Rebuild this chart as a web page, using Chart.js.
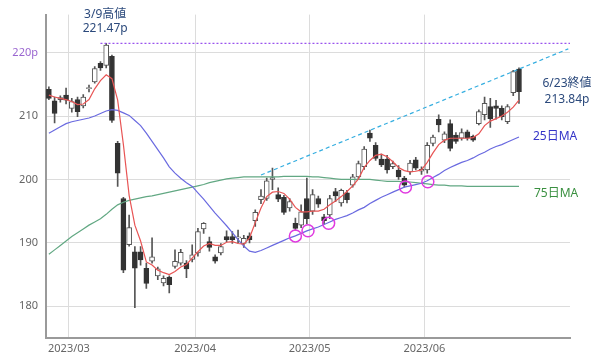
<!DOCTYPE html>
<html><head><meta charset="utf-8">
<script src="https://cdn.jsdelivr.net/npm/chart.js@4/dist/chart.umd.min.js"></script>
<style>html,body{margin:0;padding:0;background:#fff}</style>
</head><body>
<canvas id="c" width="600" height="356"></canvas>
<script>
const dates = ['2/22','2/24','2/27','2/28',
'3/1','3/2','3/3','3/6','3/7','3/8','3/9','3/10','3/13','3/14','3/15','3/16','3/17','3/20','3/22','3/23','3/24','3/27','3/28','3/29','3/30','3/31',
'4/3','4/4','4/5','4/6','4/7','4/10','4/11','4/12','4/13','4/14','4/17','4/18','4/19','4/20','4/21','4/24','4/25','4/26','4/27','4/28',
'5/1','5/2','5/8','5/9','5/10','5/11','5/12','5/15','5/16','5/17','5/18','5/19','5/22','5/23','5/24','5/25','5/26','5/29','5/30','5/31',
'6/1','6/2','6/5','6/6','6/7','6/8','6/9','6/12','6/13','6/14','6/15','6/16','6/19','6/20','6/21','6/22','6/23'];

const opens = [214.2,212.4,212.6,213.3,211.2,212.6,211.6,214.3,215.4,218.3,218.0,219.4,205.7,197.0,189.7,188.6,188.6,186.0,187.1,184.8,183.7,184.6,186.3,186.8,186.8,187.4,
188.4,192.2,190.2,187.8,188.4,191.0,191.0,190.8,189.9,191.1,193.5,196.8,197.0,200.0,197.6,197.2,195.5,193.1,192.8,197.0,
195.0,197.0,194.1,194.4,198.1,196.3,197.9,199.1,200.4,202.0,207.3,205.4,203.2,203.2,202.0,201.5,200.2,201.2,203.1,201.3,
201.5,205.7,209.5,206.2,208.8,207.0,206.5,207.5,206.8,208.8,210.2,211.5,211.6,211.2,209.1,213.7,217.4];
const highs = [214.6,213.0,213.2,214.4,212.8,213.0,213.4,214.9,217.8,218.6,221.47,219.6,206.0,197.2,194.4,189.4,189.4,186.8,190.8,186.2,184.8,184.8,188.9,189.0,187.2,189.7,
192.3,193.2,190.9,188.1,189.9,191.9,191.8,192.0,191.2,191.6,195.2,198.4,200.2,201.8,198.7,197.5,197.0,193.9,196.0,200.2,
198.4,197.4,194.5,197.5,198.6,198.5,198.3,200.8,202.9,205.2,207.8,205.8,204.0,203.8,202.9,202.2,200.5,203.0,203.5,202.0,
205.8,207.0,210.2,207.5,209.4,207.4,208.0,207.8,207.0,211.0,213.0,212.8,212.5,211.6,211.8,217.2,217.6];
const lows = [212.6,208.9,212.2,211.9,210.6,209.9,211.3,213.8,215.2,217.2,217.6,209.0,198.9,185.3,189.5,179.8,186.5,182.8,186.8,184.2,183.2,182.1,186.0,186.5,184.5,187.0,
187.9,191.5,188.7,186.8,188.1,190.2,189.9,190.0,189.3,190.0,192.6,196.2,196.7,198.4,196.5,194.5,195.0,192.0,192.4,193.0,
194.5,195.6,193.0,193.8,196.5,195.8,196.3,198.8,200.0,201.6,206.0,203.0,202.0,201.0,201.7,200.0,198.8,200.8,201.5,200.8,
201.0,205.3,207.5,205.8,204.5,205.7,206.2,206.2,206.0,208.6,209.4,208.2,209.5,209.4,208.8,213.2,212.0];
const closes = [212.8,210.4,212.9,212.5,212.3,210.7,213.0,214.5,217.5,217.6,221.2,209.3,201.0,185.7,192.4,186.0,187.3,183.6,187.8,185.9,184.4,183.4,187.1,188.5,185.9,188.1,
191.8,193.1,189.3,187.1,189.4,190.5,190.5,190.9,190.7,190.5,194.8,197.4,199.8,200.3,196.9,194.8,196.5,192.3,194.9,193.8,
197.6,196.1,193.5,197.0,197.4,198.3,196.8,200.4,202.5,204.8,206.5,203.3,202.3,201.5,202.5,200.4,199.1,202.6,201.8,201.6,
205.4,206.7,208.6,207.2,204.9,206.0,207.4,206.5,206.2,210.7,212.0,209.6,211.2,209.9,211.5,217.0,213.84];

const ma5 = [213.3,213.0,212.8,212.6,212.3,211.8,211.9,212.6,214.3,215.6,216.5,215.9,212.5,205.5,197.5,192.8,190.3,187.0,186.5,185.7,185.3,185.0,185.5,186.2,186.6,187.6,
188.6,189.5,189.9,189.6,189.6,190.1,190.2,189.9,189.8,190.8,193.2,195.5,197.3,198.0,198.1,197.8,196.9,195.6,194.9,194.9,
195.0,195.0,195.3,196.0,196.6,197.3,198.1,199.0,200.1,201.9,203.0,203.8,204.0,203.6,202.8,201.9,201.4,201.2,201.3,201.5,
202.7,204.2,205.5,206.2,206.5,206.5,206.5,206.5,206.6,207.2,208.5,209.2,209.6,210.0,210.6,211.4,212.5];
const ma25 = [207.3,207.8,208.3,208.8,209.1,209.3,209.5,209.7,210.0,210.4,210.8,211.0,210.9,210.5,210.1,209.3,208.5,207.3,206.0,204.7,203.4,202.0,201.0,200.2,199.5,198.9,
197.9,196.9,195.8,194.7,193.7,192.7,191.6,190.5,189.5,188.7,188.5,188.8,189.2,189.6,190.0,190.4,190.8,191.1,191.5,191.9,
192.2,192.5,192.9,193.3,193.7,194.0,194.3,194.7,195.2,195.6,196.2,196.7,197.2,197.6,198.0,198.4,198.8,199.0,199.2,199.4,
199.8,200.3,200.8,201.4,201.9,202.3,202.7,203.0,203.4,203.9,204.3,204.8,205.2,205.5,205.9,206.3,206.7];
const ma75 = [188.2,188.9,189.6,190.3,191.0,191.6,192.2,192.8,193.3,193.8,194.5,195.3,196.0,196.4,196.7,196.9,197.1,197.3,197.4,197.6,197.8,198.0,198.2,198.4,198.6,198.8,
199.0,199.2,199.5,199.7,199.9,200.1,200.2,200.3,200.4,200.4,200.4,200.4,200.4,200.4,200.4,200.5,200.5,200.5,200.5,200.5,
200.4,200.4,200.3,200.2,200.1,200.0,200.0,200.0,200.0,200.0,200.0,199.9,199.8,199.7,199.7,199.7,199.6,199.6,199.5,199.4,
199.3,199.2,199.1,199.1,199.0,199.0,199.0,198.9,198.9,198.9,198.9,198.9,198.9,198.9,198.9,198.9,198.9];

const monthLabels = ['2023/03','2023/04','2023/05','2023/06'];
const yTickValues = [180,190,200,210,220];
const highIndex = 10, highValue = 221.47;
const lastIndex = 82, lastClose = 213.84;
const trendX = [37, 90.6];
const trendY = [200.7, 220.6];
const touchX = [43.0, 45.2, 48.8, 62.2, 66.1];
const touchY = [191.1, 191.9, 193.1, 198.8, 199.65];

// month boundaries from the dates list
const monthTicks = [];
for (let i = 1; i < dates.length; i++) {
  if (dates[i].split('/')[0] !== dates[i-1].split('/')[0]) monthTicks.push(i - 0.5);
}

const FONT = '"Noto Sans", "Noto Sans CJK JP", sans-serif';
Chart.defaults.font.family = FONT;

const idx = dates.map((d, i) => i);
const wickData = idx.map(i => ({x: i, y: [lows[i], highs[i]]}));
const bodyData = idx.map(i => ({x: i, y: [Math.min(opens[i], closes[i]), Math.max(opens[i], closes[i])]}));
const bodyFill = idx.map(i => closes[i] >= opens[i] ? '#ffffff' : '#333333');
const bodyBorder = idx.map(i => closes[i] >= opens[i] ? '#555555' : '#333333');
const line = arr => arr.map((v, i) => ({x: i, y: v}));

const annot = {
  id: 'annot',
  afterDraw(chart) {
    const {ctx, scales: {x, y}} = chart;
    ctx.save();
    ctx.font = '12px ' + FONT;
    ctx.textBaseline = 'middle';
    ctx.textAlign = 'center';
    ctx.fillStyle = '#2c4a7c';
    const hx = x.getPixelForValue(highIndex) - 1;
    const hy = y.getPixelForValue(highValue);
    ctx.fillText('3/9高値', hx, hy - 29);
    ctx.fillText(highValue.toFixed(2) + 'p', hx, hy - 15);
    const ly = y.getPixelForValue(lastClose);
    ctx.fillText('6/23終値', 567, ly - 8);
    ctx.fillText(lastClose.toFixed(2) + 'p', 567, ly + 8);
    ctx.textAlign = 'left';
    ctx.fillStyle = '#3434c8';
    ctx.fillText('25日MA', 533, y.getPixelForValue(ma25[ma25.length - 1]));
    ctx.fillStyle = '#3a9040';
    ctx.fillText('75日MA', 534, y.getPixelForValue(ma75[ma75.length - 1]) + 7.5);
    ctx.restore();
  }
};

new Chart(document.getElementById('c'), {
  type: 'bar',
  data: {
    datasets: [
      {type: 'line', data: line(ma5), borderColor: '#e85555', borderWidth: 1.2, pointRadius: 0, order: 1},
      {type: 'line', data: line(ma25), borderColor: '#6a6ae0', borderWidth: 1.2, pointRadius: 0, order: 1},
      {type: 'line', data: line(ma75), borderColor: '#62a883', borderWidth: 1.2, pointRadius: 0, order: 1},
      {type: 'line', data: [{x: highIndex - 1, y: highValue}, {x: 90.9, y: highValue}], borderColor: '#9a55ee', borderWidth: 1.4, borderDash: [2, 2], pointRadius: 0, order: 0},
      {type: 'line', data: trendX.map((v, i) => ({x: v, y: trendY[i]})), borderColor: '#35aee0', borderWidth: 1.2, borderDash: [4, 3], pointRadius: 0, order: 0},
      {type: 'line', data: touchX.map((v, i) => ({x: v, y: touchY[i]})), showLine: false, pointRadius: 6, pointBorderWidth: 1.5, pointBorderColor: '#e03ae0', pointBackgroundColor: 'rgba(0,0,0,0)', order: 0},
      {type: 'bar', data: bodyData, barThickness: 5, backgroundColor: bodyFill, borderColor: bodyBorder, borderWidth: 1, borderSkipped: false, grouped: false, minBarLength: 1, order: 4},
      {type: 'bar', data: wickData, barThickness: 1, backgroundColor: '#555555', grouped: false, order: 5}
    ]
  },
  options: {
    responsive: false,
    animation: false,
    events: [],
    layout: {padding: {top: 13, right: 30, left: 0, bottom: 0}},
    plugins: {legend: {display: false}, tooltip: {enabled: false}},
    scales: {
      x: {
        type: 'linear', min: -0.5, max: 90.9, offset: false,
        grid: {offset: false, color: '#dcdcdc', drawTicks: false},
        border: {color: '#9a9a9a', width: 2},
        afterBuildTicks: s => { s.ticks = monthTicks.map(v => ({value: v})); },
        afterFit: s => { s.height = 18; },
        ticks: {autoSkip: false, maxRotation: 0, padding: 4, color: '#666', font: {size: 11},
          callback: (v, i) => monthLabels[i]}
      },
      y: {
        type: 'linear', min: 175, max: 226,
        grid: {color: '#dcdcdc', drawTicks: false},
        border: {color: '#9a9a9a', width: 2},
        afterBuildTicks: s => { s.ticks = yTickValues.map(v => ({value: v})); },
        afterFit: s => { s.width = 46; },
        ticks: {padding: 8, font: {size: 11},
          color: c => c.tick && c.tick.value === 220 ? '#9a66d0' : '#666',
          callback: v => v === 220 ? v + 'p' : String(v)}
      }
    }
  },
  plugins: [annot]
});
</script>
</body></html>
